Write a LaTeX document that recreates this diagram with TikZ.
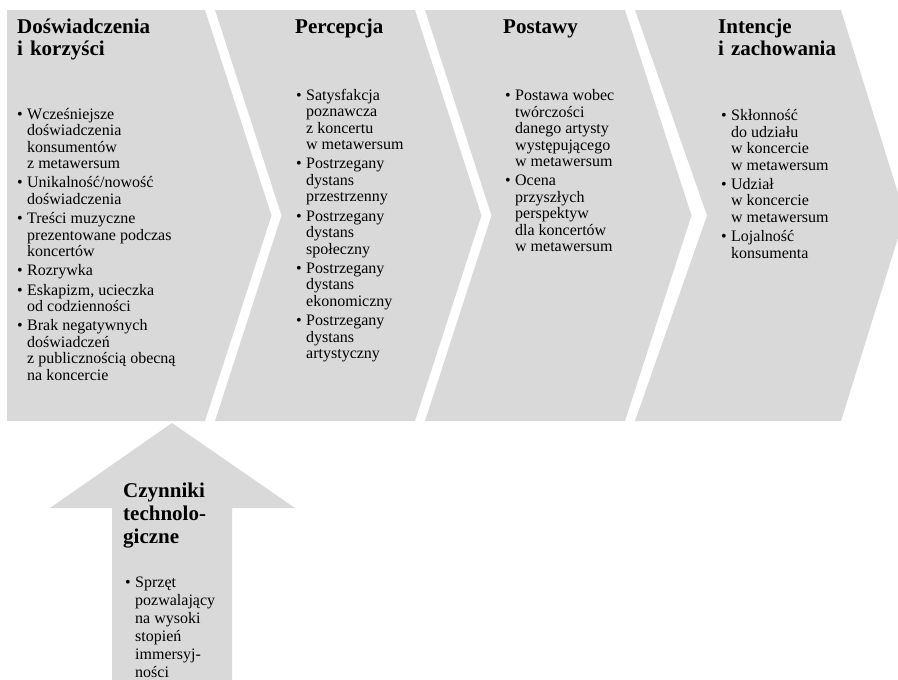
\documentclass[tikz,border=0pt]{standalone}
\usepackage{fontspec}
\setmainfont{Liberation Serif}
\definecolor{chev}{HTML}{D9D9D9}
\newcommand{\bul}{\hbox to 10pt{\textbullet\hfil}}
\newenvironment{blist}{\begin{tabular}[t]{@{}l@{}l@{}}}{\end{tabular}}
\tikzset{
  shapefill/.style={fill=chev, draw=none},
  titletext/.style={anchor=base west, inner sep=0pt, text width=220pt, align=left,
    font=\fontsize{21}{22}\selectfont\bfseries},
  bodytext/.style={anchor=base west, inner sep=0pt,
    font=\fontsize{16}{16.5}\selectfont},
}
\begin{document}
\begin{tikzpicture}[x=1pt,y=-1pt]
\useasboundingbox (0,0) rectangle (898,680);
\clip (0,0) rectangle (898,680);
% chevrons
\fill[shapefill] (7,10) -- (205,10) -- (271.5,215.5) -- (205,421) -- (7,421) -- cycle;
\fill[shapefill] (215,10) -- (415,10) -- (481.5,215.5) -- (415,421) -- (215,421) -- (281.5,215.5) -- cycle;
\fill[shapefill] (425,10) -- (625,10) -- (691.5,215.5) -- (625,421) -- (425,421) -- (491.5,215.5) -- cycle;
\fill[shapefill] (635,10) -- (841,10) -- (905,215.5) -- (841,421) -- (635,421) -- (707,215.5) -- cycle;
% arrow
\fill[shapefill] (172,423) -- (295,508) -- (232,508) -- (232,690) -- (112,690) -- (112,508) -- (50,508) -- cycle;

% chevron 1
\node[titletext] (t1) at (17,34) {Doświadczenia\\i korzyści};
\node[bodytext] (b1) at (17,119) {\begin{blist}
\bul & Wcześniejsze\\ & doświadczenia\\ & konsumentów\\ & z metawersum\\[2.8pt]
\bul & Unikalność/nowość\\ & doświadczenia\\[2.8pt]
\bul & Treści muzyczne\\ & prezentowane podczas\\ & koncertów\\[2.8pt]
\bul & Rozrywka\\[2.8pt]
\bul & Eskapizm, ucieczka\\ & od codzienności\\[2.8pt]
\bul & Brak negatywnych\\ & doświadczeń\\ & z publicznością obecną\\ & na koncercie
\end{blist}};

% chevron 2
\node[titletext] (t2) at (295,34) {Percepcja};
\node[bodytext] (b2) at (296,100) {\begin{blist}
\bul & Satysfakcja\\ & poznawcza\\ & z koncertu\\ & w metawersum\\[2.8pt]
\bul & Postrzegany\\ & dystans\\ & przestrzenny\\[2.8pt]
\bul & Postrzegany\\ & dystans\\ & społeczny\\[2.8pt]
\bul & Postrzegany\\ & dystans\\ & ekonomiczny\\[2.8pt]
\bul & Postrzegany\\ & dystans\\ & artystyczny
\end{blist}};

% chevron 3
\node[titletext] (t3) at (503,34) {Postawy};
\node[bodytext] (b3) at (505,100.5) {\begin{blist}
\bul & Postawa wobec\\ & twórczości\\ & danego artysty\\ & występującego\\ & w metawersum\\[2.8pt]
\bul & Ocena\\ & przyszłych\\ & perspektyw\\ & dla koncertów\\ & w metawersum
\end{blist}};

% chevron 4
\node[titletext] (t4) at (718,34) {Intencje\\i zachowania};
\node[bodytext] (b4) at (721,120.5) {\begin{blist}
\bul & Skłonność\\ & do udziału\\ & w koncercie\\ & w metawersum\\[2.8pt]
\bul & Udział\\ & w koncercie\\ & w metawersum\\[2.8pt]
\bul & Lojalność\\ & konsumenta
\end{blist}};

% arrow text
\node[titletext, font=\fontsize{21}{23.3}\selectfont\bfseries] (t5) at (123,497) {Czynniki\\technolo-\\giczne};
\node[bodytext, font=\fontsize{16}{18.1}\selectfont] (b5) at (125,587) {\begin{blist}
\bul & Sprzęt\\ & pozwalający\\ & na wysoki\\ & stopień\\ & immersyj-\\ & ności
\end{blist}};
\end{tikzpicture}
\end{document}
